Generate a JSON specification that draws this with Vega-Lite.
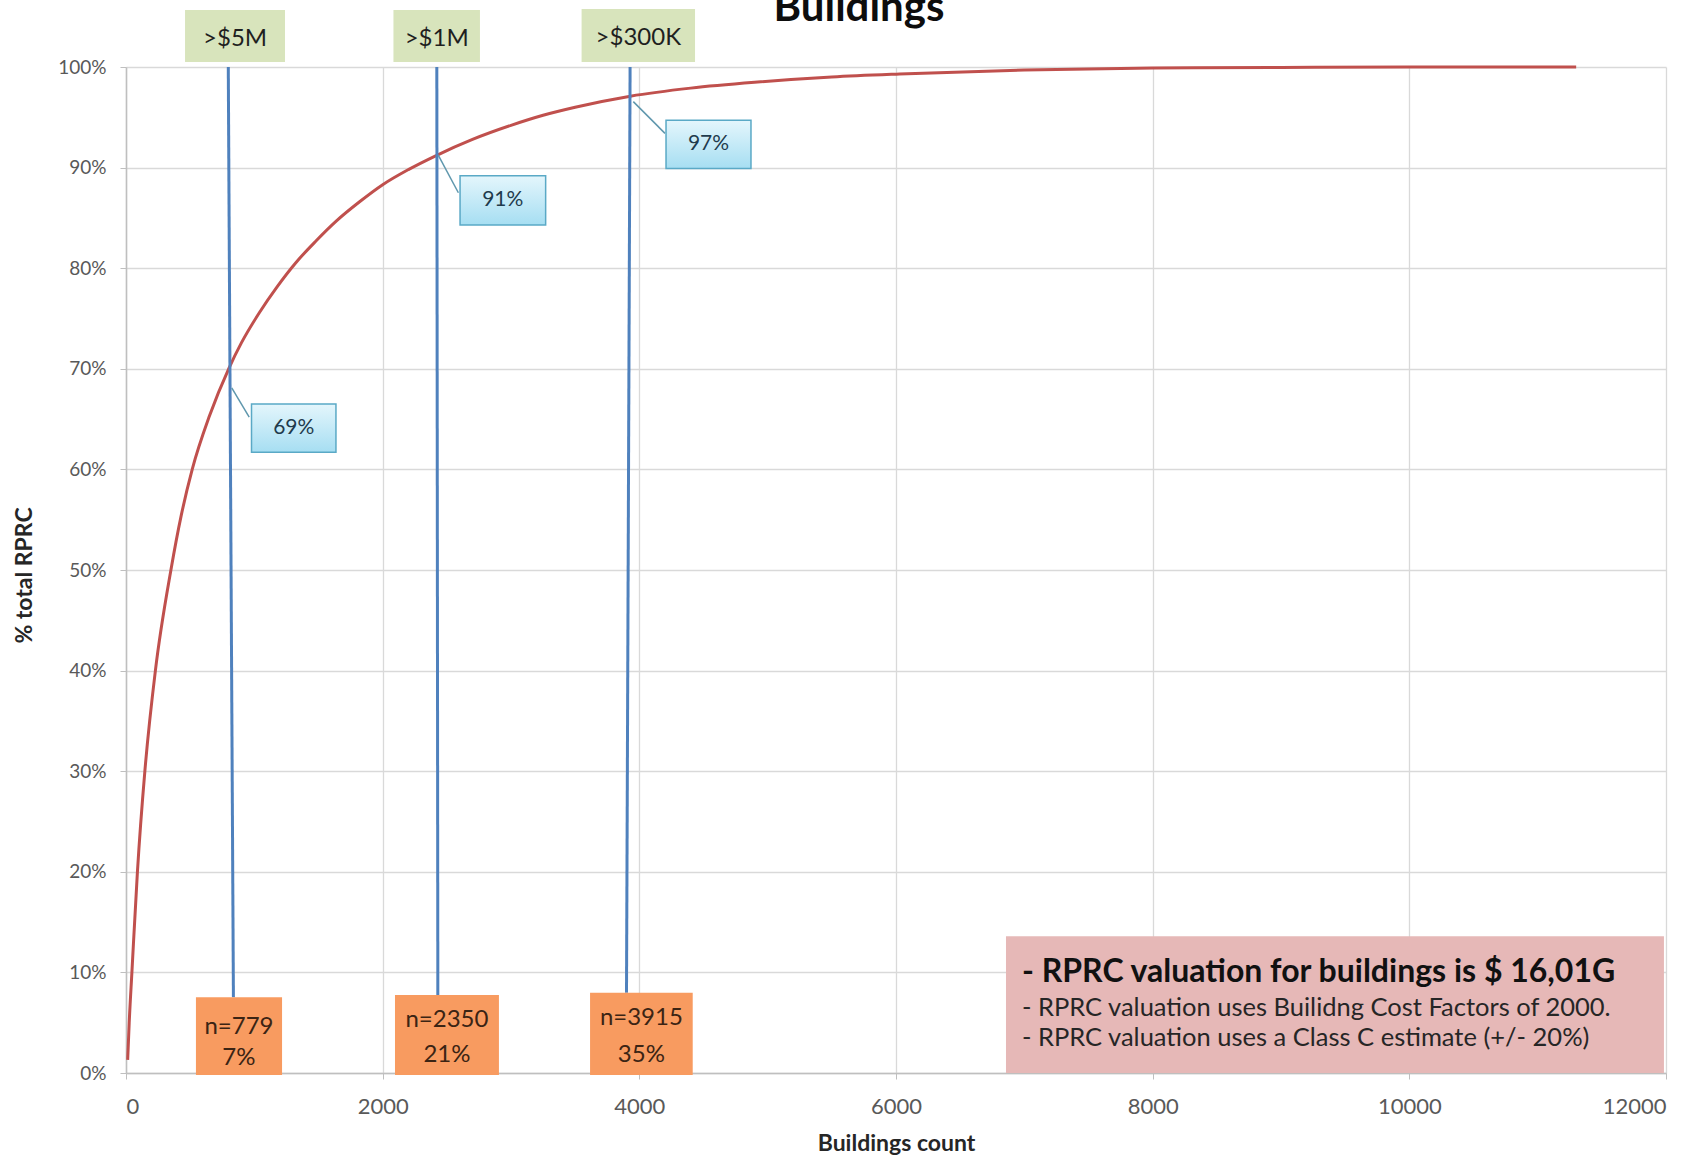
{
  "$schema": "https://vega.github.io/schema/vega-lite/v6.json",
  "width": 1540,
  "height": 1006,
  "autosize": {"type": "none"},
  "padding": {"left": 126, "top": 67, "right": 34, "bottom": 82},
  "background": "white",
  "config": {"font": "Lato", "view": {"stroke": null}},
  "title": {"text": "Buildings", "fontSize": 42, "font": "Lato", "fontWeight": "bold", "color": "#0d0d0d", "anchor": "middle", "dx": -37, "dy": 42, "baseline": "alphabetic", "offset": -12, "frame": "group"},
  "datasets": {
    "curve": [
      {"x": 13, "p": 0.013}, {"x": 25, "p": 0.05}, {"x": 46, "p": 0.10}, {"x": 89, "p": 0.20},
      {"x": 147, "p": 0.30}, {"x": 229, "p": 0.40}, {"x": 350, "p": 0.50}, {"x": 430, "p": 0.554}, {"x": 516, "p": 0.60},
      {"x": 650, "p": 0.653}, {"x": 800, "p": 0.70}, {"x": 900, "p": 0.726}, {"x": 1040, "p": 0.756}, {"x": 1180, "p": 0.782},
      {"x": 1320, "p": 0.805}, {"x": 1480, "p": 0.827}, {"x": 1640, "p": 0.847}, {"x": 1820, "p": 0.866},
      {"x": 2000, "p": 0.883}, {"x": 2200, "p": 0.898}, {"x": 2417, "p": 0.912}, {"x": 2700, "p": 0.928},
      {"x": 3000, "p": 0.942}, {"x": 3250, "p": 0.952}, {"x": 3500, "p": 0.960}, {"x": 3930, "p": 0.971},
      {"x": 4400, "p": 0.979}, {"x": 4922, "p": 0.985}, {"x": 5500, "p": 0.990}, {"x": 6028, "p": 0.993},
      {"x": 7000, "p": 0.997}, {"x": 8000, "p": 0.999}, {"x": 9000, "p": 0.9995}, {"x": 10000, "p": 1.0},
      {"x": 11300, "p": 1.0}
    ],
    "vlines": [
      {"xt": 797, "xb": 837, "yt": 1, "yb": 0.0752},
      {"xt": 2422, "xb": 2430, "yt": 1, "yb": 0.0775},
      {"xt": 3928, "xb": 3900, "yt": 1, "yb": 0.0798}
    ],
    "green": [
      {"x1": 460, "x2": 1239, "y1": 1.005, "y2": 1.0567, "tx": 850, "ty": 1.028, "label": ">$5M"},
      {"x1": 2084, "x2": 2758, "y1": 1.005, "y2": 1.0567, "tx": 2421, "ty": 1.028, "label": ">$1M"},
      {"x1": 3550, "x2": 4434, "y1": 1.005, "y2": 1.0577, "tx": 3992, "ty": 1.029, "label": ">$300K"}
    ],
    "callouts": [
      {"x1": 978, "x2": 1636, "y1": 0.617, "y2": 0.665, "tx": 1307, "ty": 0.641, "label": "69%", "lx1": 824, "ly1": 0.681, "lx2": 960, "ly2": 0.652},
      {"x1": 2603, "x2": 3270, "y1": 0.843, "y2": 0.892, "tx": 2936, "ty": 0.8675, "label": "91%", "lx1": 2433, "ly1": 0.9125, "lx2": 2590, "ly2": 0.875},
      {"x1": 4208, "x2": 4870, "y1": 0.899, "y2": 0.947, "tx": 4539, "ty": 0.923, "label": "97%", "lx1": 3953, "ly1": 0.9656, "lx2": 4200, "ly2": 0.934}
    ],
    "orange": [
      {"x1": 545, "x2": 1216, "y1": -0.002, "y2": 0.0752},
      {"x1": 2096, "x2": 2906, "y1": -0.002, "y2": 0.0775},
      {"x1": 3616, "x2": 4416, "y1": -0.002, "y2": 0.0798}
    ],
    "orangeText": [
      {"x": 880, "y": 0.046, "t": "n=779"}, {"x": 880, "y": 0.015, "t": "7%"},
      {"x": 2501, "y": 0.0527, "t": "n=2350"}, {"x": 2501, "y": 0.018, "t": "21%"},
      {"x": 4016, "y": 0.0547, "t": "n=3915"}, {"x": 4016, "y": 0.018, "t": "35%"}
    ],
    "note": [{"x1": 6857, "x2": 11984, "y1": 0, "y2": 0.136}],
    "noteHead": [{"x": 6982, "y": 0.1007, "t": "- RPRC valuation for buildings is $ 16,01G"}],
    "noteBody": [
      {"x": 6982, "y": 0.0646, "t": "- RPRC valuation uses Builidng Cost Factors of 2000."},
      {"x": 6982, "y": 0.0348, "t": "- RPRC valuation uses a Class C estimate (+/- 20%)"}
    ]
  },
  "layer": [
    {
      "data": {"name": "curve"},
      "mark": {"type": "line", "color": "#c0504d", "strokeWidth": 3, "interpolate": "monotone", "clip": false},
      "encoding": {
        "x": {"field": "x", "type": "quantitative", "title": "Buildings count", "scale": {"domain": [0, 12000], "nice": false},
          "axis": {"values": [0, 2000, 4000, 6000, 8000, 10000, 12000], "format": "d",
            "grid": true, "gridColor": "#d9d9d9", "gridWidth": 1.3, "domainColor": "#bfbfbf", "domainWidth": 1.5,
            "tickColor": "#bfbfbf", "tickSize": 6, "labelFontSize": 22, "labelColor": "#595959", "labelPadding": 17,
            "labelFont": "Lato", "titleFont": "Lato", "titleFontSize": 23, "titleFontWeight": "bold", "titleColor": "#262626",
            "titleY": 77, "titleBaseline": "alphabetic"}},
        "y": {"field": "p", "type": "quantitative", "title": "% total RPRC", "scale": {"domain": [0, 1], "nice": false},
          "axis": {"values": [0, 0.1, 0.2, 0.3, 0.4, 0.5, 0.6, 0.7, 0.8, 0.9, 1], "format": ".0%",
            "grid": true, "gridColor": "#d9d9d9", "gridWidth": 1.3, "domainColor": "#bfbfbf", "domainWidth": 1.5,
            "tickColor": "#bfbfbf", "tickSize": 6, "labelFontSize": 19, "labelColor": "#595959", "labelPadding": 14,
            "labelFont": "Lato", "titleFont": "Lato", "titleFontSize": 23, "titleFontWeight": "bold", "titleColor": "#262626",
            "titleX": -102, "titleY": 508, "titleBaseline": "middle"}}
      }
    },
    {
      "data": {"name": "vlines"},
      "mark": {"type": "rule", "color": "#4f81bd", "strokeWidth": 3},
      "encoding": {
        "x": {"field": "xt", "type": "quantitative", "title": "Buildings count"},
        "x2": {"field": "xb"},
        "y": {"field": "yt", "type": "quantitative", "title": "% total RPRC"},
        "y2": {"field": "yb"}
      }
    },
    {
      "data": {"name": "green"},
      "mark": {"type": "rect", "color": "#d8e4bc", "clip": false},
      "encoding": {
        "x": {"field": "x1", "type": "quantitative", "title": "Buildings count"},
        "x2": {"field": "x2"},
        "y": {"field": "y1", "type": "quantitative", "title": "% total RPRC"},
        "y2": {"field": "y2"}
      }
    },
    {
      "data": {"name": "green"},
      "mark": {"type": "text", "fontSize": 24, "color": "#1f1f1f", "align": "center", "baseline": "middle", "clip": false},
      "encoding": {
        "x": {"field": "tx", "type": "quantitative", "title": "Buildings count"},
        "y": {"field": "ty", "type": "quantitative", "title": "% total RPRC"},
        "text": {"field": "label"}
      }
    },
    {
      "data": {"name": "callouts"},
      "mark": {"type": "rule", "color": "#5f97ad", "strokeWidth": 1.5},
      "encoding": {
        "x": {"field": "lx1", "type": "quantitative", "title": "Buildings count"},
        "x2": {"field": "lx2"},
        "y": {"field": "ly1", "type": "quantitative", "title": "% total RPRC"},
        "y2": {"field": "ly2"}
      }
    },
    {
      "data": {"name": "callouts"},
      "mark": {"type": "rect", "fill": {"gradient": "linear", "x1": 0, "y1": 0, "x2": 0, "y2": 1, "stops": [{"offset": 0, "color": "#e4f6fc"}, {"offset": 1, "color": "#a6def2"}]}, "stroke": "#5aa9c6", "strokeWidth": 1.5},
      "encoding": {
        "x": {"field": "x1", "type": "quantitative", "title": "Buildings count"},
        "x2": {"field": "x2"},
        "y": {"field": "y1", "type": "quantitative", "title": "% total RPRC"},
        "y2": {"field": "y2"}
      }
    },
    {
      "data": {"name": "callouts"},
      "mark": {"type": "text", "fontSize": 21, "color": "#1f3b4d", "align": "center", "baseline": "middle"},
      "encoding": {
        "x": {"field": "tx", "type": "quantitative", "title": "Buildings count"},
        "y": {"field": "ty", "type": "quantitative", "title": "% total RPRC"},
        "text": {"field": "label"}
      }
    },
    {
      "data": {"name": "orange"},
      "mark": {"type": "rect", "color": "#f89b60", "clip": false},
      "encoding": {
        "x": {"field": "x1", "type": "quantitative", "title": "Buildings count"},
        "x2": {"field": "x2"},
        "y": {"field": "y1", "type": "quantitative", "title": "% total RPRC"},
        "y2": {"field": "y2"}
      }
    },
    {
      "data": {"name": "orangeText"},
      "mark": {"type": "text", "fontSize": 24, "color": "#3b2414", "align": "center", "baseline": "middle"},
      "encoding": {
        "x": {"field": "x", "type": "quantitative", "title": "Buildings count"},
        "y": {"field": "y", "type": "quantitative", "title": "% total RPRC"},
        "text": {"field": "t"}
      }
    },
    {
      "data": {"name": "note"},
      "mark": {"type": "rect", "color": "#e6b8b7"},
      "encoding": {
        "x": {"field": "x1", "type": "quantitative", "title": "Buildings count"},
        "x2": {"field": "x2"},
        "y": {"field": "y1", "type": "quantitative", "title": "% total RPRC"},
        "y2": {"field": "y2"}
      }
    },
    {
      "data": {"name": "noteHead"},
      "mark": {"type": "text", "fontSize": 32, "fontWeight": "bold", "color": "#111111", "align": "left", "baseline": "middle"},
      "encoding": {
        "x": {"field": "x", "type": "quantitative", "title": "Buildings count"},
        "y": {"field": "y", "type": "quantitative", "title": "% total RPRC"},
        "text": {"field": "t"}
      }
    },
    {
      "data": {"name": "noteBody"},
      "mark": {"type": "text", "fontSize": 25.5, "color": "#262626", "align": "left", "baseline": "middle"},
      "encoding": {
        "x": {"field": "x", "type": "quantitative", "title": "Buildings count"},
        "y": {"field": "y", "type": "quantitative", "title": "% total RPRC"},
        "text": {"field": "t"}
      }
    }
  ]
}
